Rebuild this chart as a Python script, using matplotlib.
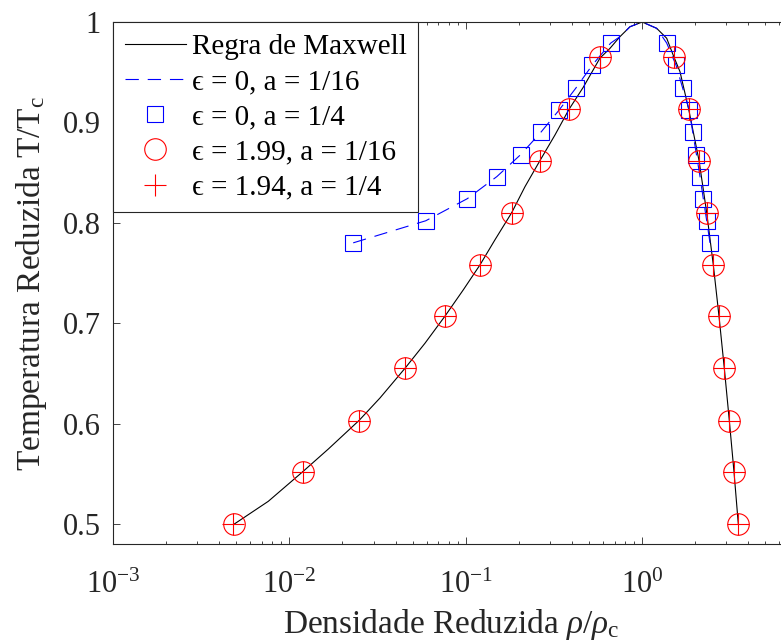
import matplotlib
matplotlib.use("Agg")
import matplotlib.pyplot as plt

# coexistence curve (Maxwell construction)
rho_maxwell = [0.00488, 0.00759, 0.0119, 0.01662, 0.0248, 0.0326, 0.0452, 0.0587,
               0.0762, 0.0968, 0.1203, 0.1463, 0.182, 0.2166, 0.2634, 0.3204,
               0.3846, 0.4634, 0.576, 0.657, 0.748, 0.853, 1.0,
               1.208, 1.377, 1.514, 1.638, 1.748, 1.835, 2.10, 2.321, 2.53,
               2.725, 2.921, 3.118, 3.314, 3.506]
T_maxwell = [0.5, 0.5225, 0.552, 0.5746, 0.603, 0.6254, 0.655, 0.680,
             0.707, 0.7332, 0.758, 0.783, 0.810, 0.836, 0.862, 0.8875,
             0.913, 0.935, 0.964, 0.9738, 0.9854, 0.9953, 1.0,
             0.9937, 0.9838, 0.965, 0.9505, 0.929, 0.913, 0.862, 0.810, 0.758,
             0.707, 0.655, 0.603, 0.552, 0.5]

# eps = 0, a = 1/16 (dashed)
rho_dash = [0.0230, 0.0593, 0.102, 0.150, 0.205, 0.266, 0.337, 0.420, 0.521, 0.663,
            0.748, 0.853, 1.0, 1.208, 1.377, 1.555, 1.697, 1.85, 1.935, 2.03,
            2.127, 2.22, 2.321, 2.423]
T_dash = [0.780, 0.802, 0.824, 0.846, 0.868, 0.890, 0.912, 0.934, 0.957, 0.979,
          0.9854, 0.9953, 1.0, 0.9937, 0.979, 0.957, 0.934, 0.912, 0.890, 0.868,
          0.846, 0.824, 0.802, 0.780]

# eps = 0, a = 1/4 (squares)
rho_sq = [0.0230, 0.0593, 0.102, 0.150, 0.205, 0.266, 0.337, 0.420, 0.521, 0.663,
          1.377, 1.555, 1.697, 1.85, 1.935, 2.03, 2.127, 2.22, 2.321, 2.423]
T_sq = [0.780, 0.802, 0.824, 0.846, 0.868, 0.890, 0.912, 0.934, 0.957, 0.979,
        0.979, 0.957, 0.934, 0.912, 0.890, 0.868, 0.846, 0.824, 0.802, 0.780]

# eps = 1.99, a = 1/16 (circles)
rho_circ = [0.00488, 0.0119, 0.0248, 0.0452, 0.0762, 0.1203, 0.182, 0.2634, 0.3846, 0.5764,
            1.514, 1.835, 2.10, 2.321, 2.53, 2.725, 2.921, 3.118, 3.314, 3.506]
T_circ = [0.5, 0.552, 0.603, 0.655, 0.707, 0.758, 0.810, 0.862, 0.913, 0.965,
          0.965, 0.913, 0.862, 0.810, 0.758, 0.707, 0.655, 0.603, 0.552, 0.5]

# eps = 1.94, a = 1/4 (plus)
rho_plus = [0.00480, 0.0119, 0.0248, 0.0452, 0.0762, 0.1203, 0.182, 0.2634, 0.3846, 0.5764,
            1.514, 1.835, 2.10, 2.321, 2.53, 2.725, 2.921, 3.118, 3.314, 3.506]
T_plus = [0.5, 0.552, 0.603, 0.655, 0.707, 0.758, 0.810, 0.862, 0.913, 0.965,
          0.965, 0.913, 0.862, 0.810, 0.758, 0.707, 0.655, 0.603, 0.552, 0.5]

labels = ["Regra de Maxwell", "ϵ = 0, a = 1/16", "ϵ = 0, a = 1/4",
          "ϵ = 1.99, a = 1/16", "ϵ = 1.94, a = 1/4"]

plt.rcParams['font.family'] = ['Liberation Serif', 'DejaVu Serif']
plt.rcParams['mathtext.fontset'] = 'custom'
plt.rcParams['mathtext.rm'] = 'Liberation Serif'
plt.rcParams['mathtext.it'] = 'Liberation Serif:italic'
plt.rcParams['mathtext.bf'] = 'Liberation Serif:bold'

gray = '#262626'
fig = plt.figure(figsize=(7.81, 6.43), dpi=100)
ax = fig.add_axes([113 / 781, 99 / 643, (790 - 113) / 781, 522 / 643])

ax.plot(rho_maxwell, T_maxwell, color='k', lw=0.8, label=labels[0])
ax.plot(rho_dash, T_dash, color='b', lw=0.8, dashes=(12, 8), label=labels[1])
ax.plot(rho_sq, T_sq, ls='none', marker='s', ms=11.5, mfc='none', mec='b', mew=0.8,
        label=labels[2])
ax.plot(rho_circ, T_circ, ls='none', marker='o', ms=15.5, mfc='none', mec='r', mew=0.8,
        label=labels[3])
ax.plot(rho_plus, T_plus, ls='none', marker='+', ms=15.5, mec='r', mew=0.8,
        label=labels[4])

ax.set_xscale('log')
ax.set_xlim(1e-3, 6.885)
ax.set_ylim(0.48, 1.0)
ax.set_yticks([0.5, 0.6, 0.7, 0.8, 0.9, 1.0])
ax.set_yticklabels(['0.5', '0.6', '0.7', '0.8', '0.9', '1'])

ax.tick_params(which='both', direction='in', top=True, right=True, colors=gray,
               labelsize=22, width=0.6)
ax.tick_params(which='major', length=4.8)
ax.tick_params(which='minor', length=2.4)
ax.tick_params(axis='x', pad=19)
ax.tick_params(axis='y', pad=9)
for sp in ax.spines.values():
    sp.set_color(gray)
    sp.set_linewidth(0.8)

ax.set_xlabel(r'Densidade Reduzida $\rho/\rho_{\mathrm{c}}$', fontsize=24, color=gray)
ax.set_ylabel(r'Temperatura Reduzida T/T$_{\mathrm{c}}$', fontsize=24, color=gray)
ax.xaxis.set_label_coords(0.5, -0.121)
ax.yaxis.set_label_coords(-0.0945, 0.5)

leg = ax.legend(loc='upper left', bbox_to_anchor=(0, 1), borderaxespad=0, numpoints=1,
                fontsize=21, fancybox=False, framealpha=1, edgecolor=gray,
                handlelength=2.1, handletextpad=0.2, labelspacing=0.3, borderpad=0.4)
leg.get_frame().set_linewidth(0.8)

fig.savefig('out.png', dpi=100)
